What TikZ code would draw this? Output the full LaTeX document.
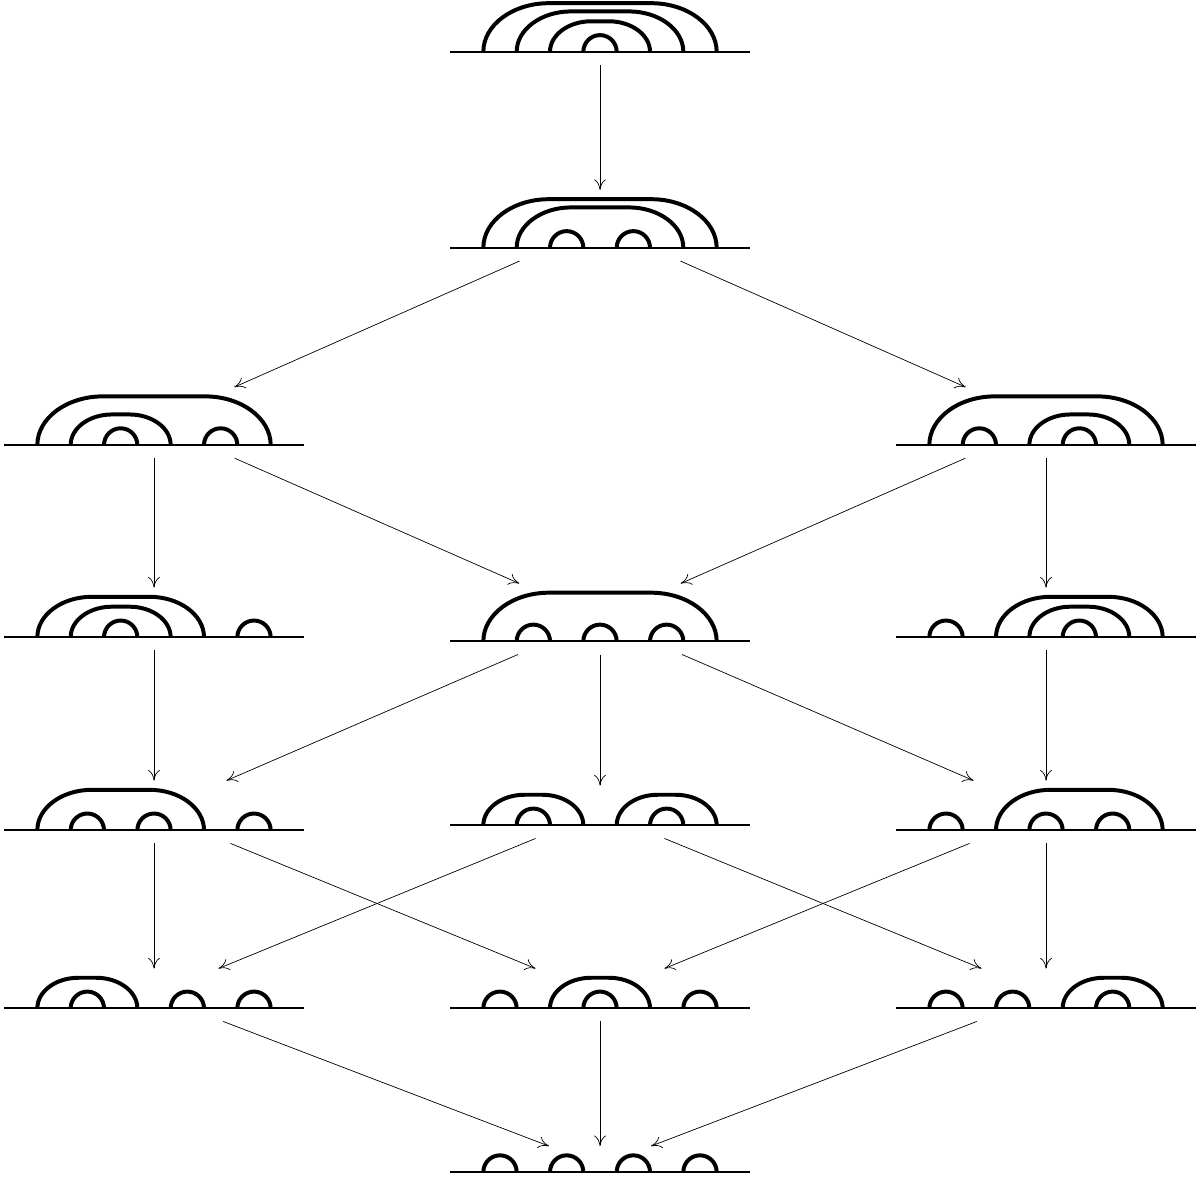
\documentclass[tikz,border=0pt]{standalone}
\usetikzlibrary{arrows.meta}

\tikzset{
  axisline/.style = {line width = 1.5pt},
  arcline/.style = {line width = 3.4pt},
  diagbox/.style = {rectangle, inner sep = 0pt, minimum width = 9cm},
  edge/.style = {line width = 0.6pt, -{To[length = 9pt, width = 10pt]}}
}

% one arc diagram: name, centre x, centre y, list of arcs p/q
\newcommand{\arcdiagram}[4]{
  \xdef\hmax{0.5}
  \foreach \p/\q in {#4} {
    \pgfmathparse{max(\hmax, 0.5*pow(\q-\p, 0.55))}
    \xdef\hmax{\pgfmathresult}
  }
  \pgfmathsetmacro\basey{#3 - (\hmax - 0.12)/2}
  \pgfmathsetmacro\startx{#2 - 4.5}
  \draw [axisline] (\startx, \basey) -- ++(9, 0);
  \foreach \p/\q in {#4} {
    \pgfmathsetmacro\ah{0.5*pow(\q-\p, 0.55)}
    \pgfmathsetmacro\cw{min((\q-\p)/2, 1.35*\ah)}
    \draw [arcline] (\startx+\p, \basey)
      .. controls (\startx+\p, \basey+0.552*\ah) and (\startx+\p+0.448*\cw, \basey+\ah) .. (\startx+\p+\cw, \basey+\ah)
      -- (\startx+\q-\cw, \basey+\ah)
      .. controls (\startx+\q-0.448*\cw, \basey+\ah) and (\startx+\q, \basey+0.552*\ah) .. (\startx+\q, \basey);
  }
  \node [diagbox, minimum height = {(\hmax + 0.66)*1cm}] (#1) at (#2, #3) {};
}

\begin{document}
\begin{tikzpicture}
  \useasboundingbox (0, 0) rectangle (35.97, 35.46);

  \arcdiagram{n1}{18.0}{34.575}{1/8, 2/7, 3/6, 4/5}
  \arcdiagram{n2}{18.0}{28.695}{1/8, 2/7, 3/4, 5/6}
  \arcdiagram{n3}{4.62}{22.78}{1/8, 2/5, 3/4, 6/7}
  \arcdiagram{n4}{31.38}{22.78}{1/8, 2/3, 4/7, 5/6}
  \arcdiagram{n5}{4.62}{16.89}{1/6, 2/5, 3/4, 7/8}
  \arcdiagram{n6}{18.0}{16.89}{1/8, 2/3, 4/5, 6/7}
  \arcdiagram{n7}{31.38}{16.89}{1/2, 3/8, 4/7, 5/6}
  \arcdiagram{n8}{4.62}{11.10}{1/6, 2/3, 4/5, 7/8}
  \arcdiagram{n9}{18.0}{11.10}{1/4, 2/3, 5/8, 6/7}
  \arcdiagram{n10}{31.38}{11.10}{1/2, 3/8, 4/5, 6/7}
  \arcdiagram{n11}{4.62}{5.61}{1/4, 2/3, 5/6, 7/8}
  \arcdiagram{n12}{18.0}{5.61}{1/2, 3/6, 4/5, 7/8}
  \arcdiagram{n13}{31.38}{5.61}{1/2, 3/4, 5/8, 6/7}
  \arcdiagram{n14}{18.0}{0.49}{1/2, 3/4, 5/6, 7/8}

  \foreach \s/\t in {n1/n2, n2/n3, n2/n4, n3/n5, n3/n6, n4/n6, n4/n7,
      n5/n8, n6/n8, n6/n9, n6/n10, n7/n10, n8/n11, n8/n12, n9/n11,
      n9/n13, n10/n12, n10/n13, n11/n14, n12/n14, n13/n14}
    \draw [edge] (\s) -- (\t);
\end{tikzpicture}
\end{document}
